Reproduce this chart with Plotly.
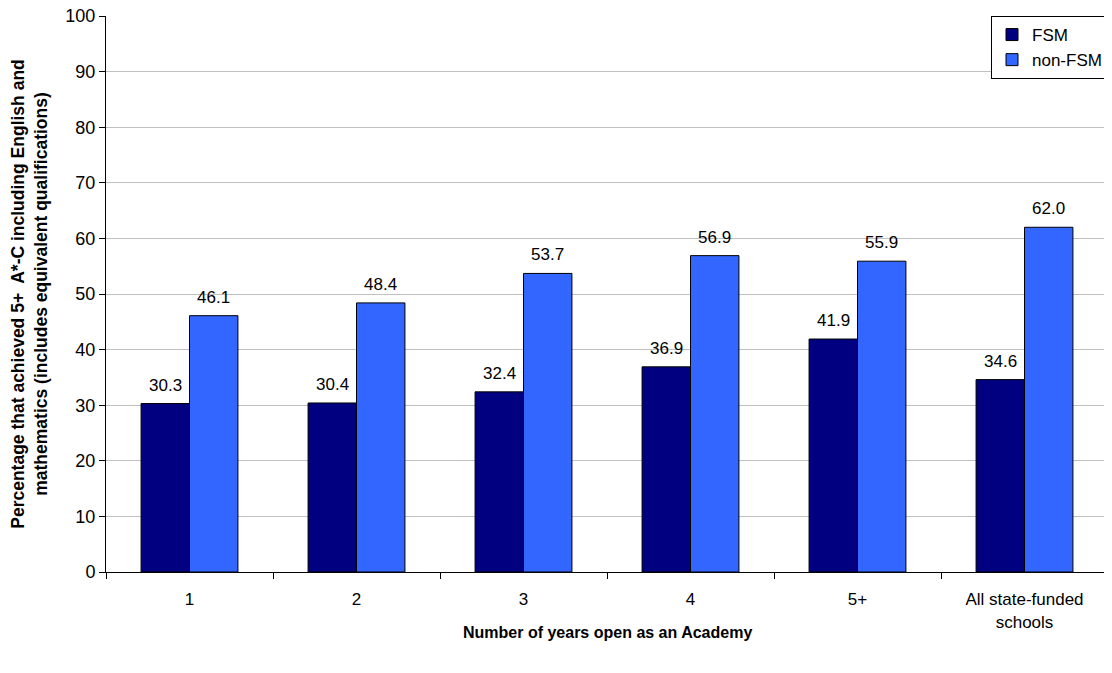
import plotly.graph_objects as go

categories = ["1", "2", "3", "4", "5+", "All state-funded<br>schools"]
fsm = [30.3, 30.4, 32.4, 36.9, 41.9, 34.6]
non_fsm = [46.1, 48.4, 53.7, 56.9, 55.9, 62.0]

W, H = 1104, 657
M = dict(l=98, r=4, t=8, b=93)
BARGAP = 0.42
plot_w = W - M["l"] - M["r"]
plot_h = H - M["t"] - M["b"]
bar_px = plot_w / len(categories) * (1 - BARGAP) / 2

fig = go.Figure()
fig.add_trace(go.Bar(
    name="FSM", x=categories, y=fsm,
    marker=dict(color="#000080", line=dict(color="#000000", width=1)),
))
fig.add_trace(go.Bar(
    name="non-FSM", x=categories, y=non_fsm,
    marker=dict(color="#3366FF", line=dict(color="#000000", width=1)),
))

for series, sign in ((fsm, -1), (non_fsm, 1)):
    for i, v in enumerate(series):
        fig.add_annotation(
            x=i, y=v, xref="x", yref="y", text=f"{v:.1f}", showarrow=False,
            xanchor="center", yanchor="bottom", xshift=sign * bar_px / 2, yshift=7,
            font=dict(size=17, color="#000000"),
        )

fig.add_annotation(
    x=0.5, y=-60 / plot_h, xref="paper", yref="paper",
    text="<b>Number of years open as an Academy</b>", showarrow=False,
    xanchor="center", yanchor="middle", font=dict(size=16, color="#000000"),
)

fig.update_layout(
    width=W, height=H,
    barmode="group", bargap=BARGAP, bargroupgap=0,
    plot_bgcolor="white", paper_bgcolor="white",
    font=dict(family="Liberation Sans, Arial, sans-serif", size=16, color="#000000"),
    margin=M,
    showlegend=True,
    legend=dict(
        x=1, y=1, xanchor="right", yanchor="top",
        bordercolor="#000000", borderwidth=1, bgcolor="white",
        font=dict(size=17), itemwidth=30,
        tracegroupgap=2,
    ),
    xaxis=dict(
        type="category", automargin=False,
        showline=True, linecolor="#000000", linewidth=1,
        ticks="outside", ticklen=6, tickcolor="#000000",
        tickson="boundaries", ticklabelstandoff=12,
        tickfont=dict(size=17),
    ),
    yaxis=dict(
        range=[0, 100], dtick=10, automargin="left",
        showline=True, linecolor="#000000", linewidth=1,
        ticks="outside", ticklen=6, tickcolor="#000000",
        showgrid=True, gridcolor="#C0C0C0", gridwidth=1,
        tickfont=dict(size=18), ticklabeloverflow="allow",
        zeroline=False,
        title=dict(text="<b>Percentage that achieved 5+  A*-C including English and<br>mathematics (includes equivalent qualifications)</b>",
                   font=dict(size=17.5), standoff=13),
    ),
)

fig.write_html("out.html")
